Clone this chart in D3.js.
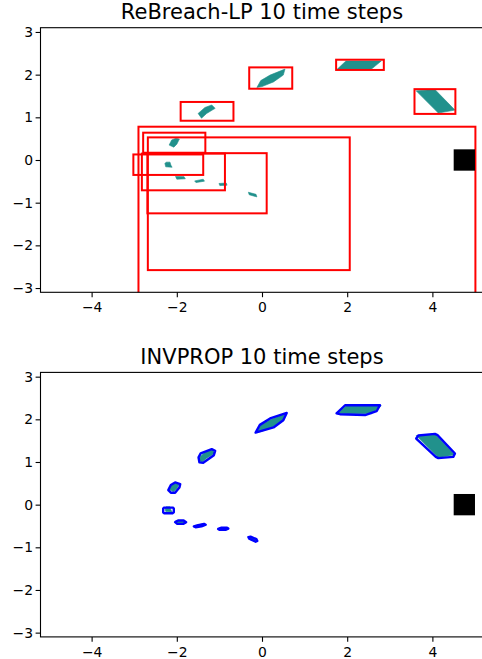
<!DOCTYPE html>
<html><head><meta charset="utf-8">
<script src="https://cdn.jsdelivr.net/npm/d3@7"></script>
<style>body{margin:0;background:#fff}svg{display:block}</style>
</head><body>
<script>
// ---------- data ----------
const titles = ["ReBreach-LP 10 time steps", "INVPROP 10 time steps"];
const xTicks = [-4, -2, 0, 2, 4];
const yTicks = [-3, -2, -1, 0, 1, 2, 3];
const xDomain = [-5.2, 5.2];
const yDomain = [-3.1, 3.1];

// true (sampled) sets per time step, polygon vertices [x, y]
const trueSets = [
  [[-0.32,-0.755],[-0.14,-0.805],[-0.12,-0.865],[-0.30,-0.815]],
  [[-1.01,-0.550],[-0.84,-0.540],[-0.82,-0.590],[-0.99,-0.600]],
  [[-1.58,-0.490],[-1.38,-0.450],[-1.35,-0.495],[-1.55,-0.530]],
  [[-2.03,-0.385],[-1.83,-0.390],[-1.80,-0.440],[-2.00,-0.450]],
  [[-2.28,-0.08],[-2.25,-0.05],[-2.16,-0.05],[-2.14,-0.12],[-2.11,-0.17],[-2.26,-0.16]],
  [[-2.18,0.35],[-2.12,0.47],[-2.02,0.51],[-1.94,0.49],[-2.00,0.37],[-2.07,0.30]],
  [[-1.50,1.09],[-1.34,1.23],[-1.18,1.29],[-1.10,1.21],[-1.30,1.09],[-1.42,0.98]],
  [[-0.12,1.70],[-0.03,1.86],[0.19,1.99],[0.54,2.13],[0.50,1.99],[0.27,1.83],[0.00,1.72]],
  [[1.77,2.13],[1.97,2.32],[2.80,2.32],[2.57,2.13]],
  [[3.62,1.62],[4.06,1.65],[4.53,1.17],[4.14,1.10]]
];

// ReBreach-LP boxes [xmin, xmax, ymin, ymax]
const rebreachBoxes = [
  [-2.90, 5.01, -4.00, 0.78],
  [-2.68, 2.06, -2.58, 0.53],
  [-2.69, 0.11, -1.25, 0.16],
  [-2.82, -0.87, -0.71, 0.15],
  [-3.02, -1.38, -0.35, 0.13],
  [-2.79, -1.33, 0.17, 0.64],
  [-1.91, -0.67, 0.92, 1.36],
  [-0.30, 0.71, 1.67, 2.17],
  [1.74, 2.86, 2.11, 2.35],
  [3.58, 4.54, 1.08, 1.66]
];

// INVPROP over-approximations (polygon vertices)
const invpropSets = [
  [[-0.32,-0.76],[-0.27,-0.75],[-0.13,-0.81],[-0.11,-0.85],[-0.15,-0.87],[-0.30,-0.80]],
  [[-1.03,-0.57],[-0.95,-0.54],[-0.82,-0.54],[-0.79,-0.56],[-0.86,-0.59],[-1.00,-0.59]],
  [[-1.60,-0.51],[-1.50,-0.48],[-1.36,-0.45],[-1.32,-0.47],[-1.42,-0.51],[-1.56,-0.53]],
  [[-2.04,-0.41],[-1.97,-0.37],[-1.84,-0.37],[-1.78,-0.41],[-1.85,-0.45],[-1.99,-0.45]],
  [[-2.32,-0.09],[-2.30,-0.07],[-2.09,-0.07],[-2.07,-0.09],[-2.07,-0.18],[-2.10,-0.20],[-2.30,-0.20],[-2.32,-0.18]],
  [[-2.20,0.34],[-2.14,0.46],[-2.04,0.52],[-1.92,0.48],[-1.94,0.40],[-2.04,0.28],[-2.14,0.28]],
  [[-1.49,1.11],[-1.44,1.20],[-1.18,1.30],[-1.10,1.26],[-1.13,1.16],[-1.38,0.98],[-1.47,0.99]],
  [[-0.15,1.69],[-0.05,1.87],[0.19,2.02],[0.58,2.15],[0.50,1.98],[0.27,1.81]],
  [[1.75,2.14],[1.95,2.33],[2.77,2.33],[2.69,2.19],[2.42,2.10],[1.83,2.12]],
  [[3.62,1.55],[3.67,1.62],[4.06,1.66],[4.12,1.63],[4.53,1.20],[4.49,1.12],[4.14,1.09],[4.08,1.12]]
];

// target (obstacle) box [xmin, xmax, ymin, ymax]
const targetBox = [4.5, 5.0, -0.25, 0.25];

// ---------- drawing ----------
const W = 482, H = 659;
const FONT = "DejaVu Sans, sans-serif";
const svg = d3.select("body").append("svg").attr("width", W).attr("height", H);

const panels = [
  {top: 27.7, bottom: 292.3, kind: "rebreach"},
  {top: 372.4, bottom: 636.9, kind: "invprop"}
];
const left = 40.5, right = 483.5;
const fmt = d3.format("d");

panels.forEach((p, i) => {
  const x = d3.scaleLinear().domain(xDomain).range([left, right]);
  const y = d3.scaleLinear().domain(yDomain).range([p.bottom, p.top]);
  const g = svg.append("g");
  const clipId = "clip" + i;
  g.append("clipPath").attr("id", clipId).append("rect")
    .attr("x", left).attr("y", p.top).attr("width", right - left).attr("height", p.bottom - p.top);
  const plot = g.append("g").attr("clip-path", `url(#${clipId})`);
  const line = d3.line().x(d => x(d[0])).y(d => y(d[1])).curve(d3.curveLinearClosed);

  plot.selectAll("path.true").data(trueSets).join("path")
    .attr("class", "true").attr("d", line).attr("fill", "#21918c")
    .attr("stroke", "#21918c").attr("stroke-width", 0.6);

  if (p.kind === "rebreach") {
    plot.selectAll("rect.box").data(rebreachBoxes).join("rect")
      .attr("x", d => x(d[0])).attr("y", d => y(d[3]))
      .attr("width", d => x(d[1]) - x(d[0])).attr("height", d => y(d[2]) - y(d[3]))
      .attr("fill", "none").attr("stroke", "#ff0000").attr("stroke-width", 2);
  } else {
    plot.selectAll("path.inv").data(invpropSets).join("path")
      .attr("class", "inv").attr("d", line).attr("fill", "none")
      .attr("stroke", "#0000ff").attr("stroke-width", 2.4).attr("stroke-linejoin", "round");
  }

  plot.append("rect")
    .attr("x", x(targetBox[0])).attr("y", y(targetBox[3]))
    .attr("width", x(targetBox[1]) - x(targetBox[0])).attr("height", y(targetBox[2]) - y(targetBox[3]))
    .attr("fill", "#000");

  // axes
  const xa = g.append("g").attr("transform", `translate(0,${p.bottom})`)
    .call(d3.axisBottom(x).tickValues(xTicks).tickFormat(fmt).tickSize(4.9).tickPadding(5));
  const ya = g.append("g").attr("transform", `translate(${left},0)`)
    .call(d3.axisLeft(y).tickValues(yTicks).tickFormat(fmt).tickSize(4.9).tickPadding(2.6));
  [xa, ya].forEach(a => {
    a.select(".domain").remove();
    a.selectAll(".tick line").attr("stroke", "#000").attr("stroke-width", 1.1);
    a.selectAll(".tick text").attr("fill", "#000").style("font-family", FONT).style("font-size", "13.9px");
  });
  xa.selectAll(".tick text").attr("y", 20).attr("dy", null);

  // spines
  g.append("rect").attr("x", left).attr("y", p.top)
    .attr("width", right - left).attr("height", p.bottom - p.top)
    .attr("fill", "none").attr("stroke", "#000").attr("stroke-width", 1.1);

  g.append("text").attr("x", (left + right) / 2).attr("y", p.top - 8.5)
    .attr("text-anchor", "middle").style("font-family", FONT).style("font-size", "21px")
    .attr("fill", "#000").text(titles[i]);
});
</script>
</body></html>
